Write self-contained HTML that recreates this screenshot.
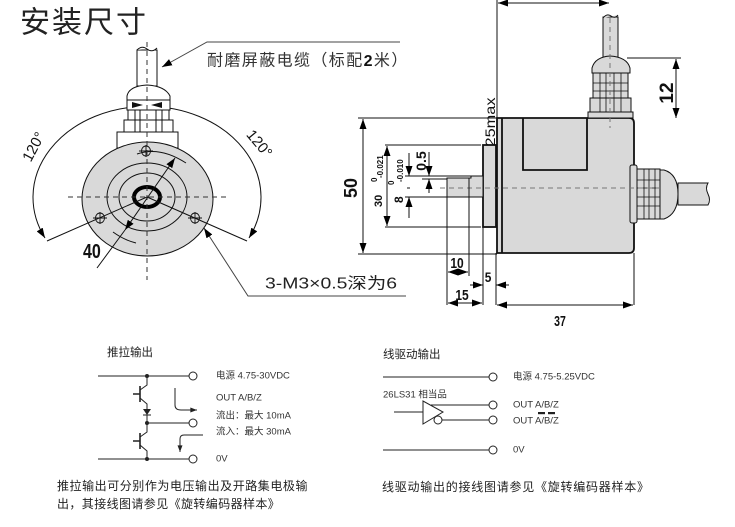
<!DOCTYPE html>
<html><head><meta charset="utf-8">
<style>
html,body{margin:0;padding:0;background:#fff;}
svg{display:block;}
</style></head><body>
<svg width="735" height="527" viewBox="0 0 735 527" xmlns="http://www.w3.org/2000/svg" font-family="'Liberation Sans','Noto Sans CJK SC',sans-serif">
<defs>
<marker id="ar" viewBox="0 0 10 7" refX="10" refY="3.5" markerWidth="10" markerHeight="7" markerUnits="userSpaceOnUse" orient="auto-start-reverse"><path d="M0,0 L10,3.5 L0,7 Z" fill="#000"/></marker>
<marker id="sm" viewBox="0 0 8 6" refX="8" refY="3" markerWidth="7" markerHeight="5" markerUnits="userSpaceOnUse" orient="auto-start-reverse"><path d="M0,0 L8,3 L0,6 Z" fill="#222"/></marker>
</defs>

<!-- Title -->
<text x="20" y="23" font-size="30" letter-spacing="2" dominant-baseline="central" fill="#222">安装尺寸</text>

<!-- ===== FRONT VIEW ===== -->
<path d="M45,238 A114,91 0 1,1 249,238" fill="none" stroke="#111" stroke-width="1" marker-start="url(#ar)" marker-end="url(#ar)"/>

<!-- cable & connector -->
<rect x="137" y="50" width="20" height="36" fill="#fff" stroke="#111"/>
<path d="M137,50 Q142,45 147,49 Q152,53 157,48" fill="#fff" stroke="#111"/>
<path d="M127,100 L127,96 Q129,86 147,85 Q165,86 170,96 L170,100 Z" fill="#fff" stroke="#111"/>
<rect x="127" y="100" width="43" height="10" fill="#fff" stroke="#111"/>
<path d="M132,102 L143,105 L132,108 Z M162,102 L151,105 L162,108 Z" fill="#111"/>
<rect x="128" y="110" width="41" height="10" fill="#fff" stroke="#111"/>
<rect x="124" y="120" width="49" height="12" fill="#fff" stroke="#111"/>
<path d="M135,110 V132 M140,110 V132 M156,110 V132 M162,110 V132" stroke="#111" fill="none"/>
<rect x="117" y="132" width="61" height="16" fill="#fff" stroke="#111"/>

<!-- flange -->
<ellipse cx="147.5" cy="199" rx="65.5" ry="57" fill="#d9d9d9" stroke="#111"/>
<ellipse cx="147" cy="197" rx="40" ry="34" fill="none" stroke="#111"/>
<ellipse cx="147" cy="197" rx="28" ry="24" fill="none" stroke="#111"/>
<ellipse cx="147" cy="197" rx="13" ry="10" fill="none" stroke="#000" stroke-width="4"/>
<!-- bolt circle arcs -->
<path d="M137,154 Q160,146 186,163" fill="none" stroke="#111"/>
<path d="M113,232 Q124,240 136,243" fill="none" stroke="#111"/>
<!-- bolt holes -->
<g fill="none" stroke="#111" stroke-width="0.9">
<ellipse cx="146" cy="151" rx="4.5" ry="5"/><path d="M139,151 H153 M146,145 V157"/>
<ellipse cx="100" cy="218" rx="4.5" ry="5"/><path d="M93,218 H107 M100,212 V224"/>
<ellipse cx="195" cy="218" rx="4.5" ry="5"/><path d="M188,218 H202 M195,212 V224"/>
</g>
<!-- lines from center to arc ends -->
<path d="M147,197 L47,241 M147,197 L247,241" stroke="#111" fill="none"/>
<!-- dashed center lines -->
<path d="M68,197 H228 M147,42 V280" stroke="#333" stroke-dasharray="5,4" fill="none"/>
<!-- diameter 40 -->
<line x1="125" y1="230" x2="175" y2="158" stroke="#111" marker-start="url(#ar)" marker-end="url(#ar)"/>
<line x1="125" y1="230" x2="97" y2="268" stroke="#111"/>
<text transform="translate(83,258) scale(0.8,1)" font-size="20" font-weight="bold" fill="#111">40</text>
<!-- 120 labels -->
<text transform="translate(34,147) rotate(-62)" font-size="15" text-anchor="middle" dominant-baseline="central" fill="#111">120°</text>
<text transform="translate(259,144) rotate(50)" font-size="15" text-anchor="middle" dominant-baseline="central" fill="#111">120°</text>
<!-- cable leader -->
<path d="M400,42 H207 L162,67" fill="none" stroke="#444" marker-end="url(#ar)"/>
<text x="207" y="61" font-size="16" letter-spacing="1.4" dominant-baseline="central" fill="#333">耐磨屏蔽电缆（标配<tspan font-weight="bold" fill="#111">2</tspan>米）</text>
<!-- 3-M3 leader -->
<path d="M406,296 H248 L204,228" fill="none" stroke="#444" marker-end="url(#ar)"/>
<text x="265" y="284" font-size="16" textLength="132" lengthAdjust="spacingAndGlyphs" dominant-baseline="central" fill="#222">3-M3×0.5深为6</text>

<!-- ===== SIDE VIEW ===== -->
<!-- top dim -->
<line x1="497" y1="0" x2="497" y2="118" stroke="#111"/>
<line x1="498" y1="3" x2="609" y2="3" stroke="#111" marker-start="url(#ar)" marker-end="url(#ar)"/>
<text transform="translate(495,122) rotate(-90)" font-size="14" text-anchor="middle" textLength="49" lengthAdjust="spacingAndGlyphs" fill="#111">25max</text>

<!-- top connector -->
<rect x="603" y="17" width="15" height="42" fill="#d9d9d9" stroke="#111"/>
<path d="M603,18 Q607,13 611,16 Q615,19 618,15" fill="#d9d9d9" stroke="#111"/>
<path d="M592,73 L592,68 Q595,57 610,56 Q627,57 630,68 L630,73 Z" fill="#d9d9d9" stroke="#111"/>
<rect x="593" y="73" width="35" height="25" fill="#d9d9d9" stroke="#111"/>
<rect x="590" y="98" width="41" height="14" fill="#d9d9d9" stroke="#111"/>
<path d="M600,73 V112 M606,73 V112 M614,73 V112 M621,73 V112 M593,83 H628 M593,91 H628" stroke="#111" fill="none" stroke-width="0.8"/>
<rect x="588" y="112" width="45" height="6" fill="#d9d9d9" stroke="#111"/>

<!-- body -->
<path d="M497,118 L629,118 Q634,118 634,123 L634,248 Q634,253 629,253 L497,253 Z" fill="#d9d9d9" stroke="#111" stroke-width="1.8"/>
<line x1="502" y1="118" x2="502" y2="253" stroke="#111" stroke-width="1.8"/>
<path d="M523,118 V170 H587 V118" fill="none" stroke="#111" stroke-width="1.8"/>
<rect x="588" y="112" width="45" height="6" fill="#d9d9d9" stroke="#111"/>
<!-- flange pilot -->
<rect x="483" y="145" width="13" height="82" fill="#d9d9d9" stroke="#111" stroke-width="1.8"/>
<!-- shaft -->
<path d="M447,178 L471,178 L471,176 L483,176 L483,197 L447,197 Z" fill="#d9d9d9" stroke="#111"/>

<!-- side connector -->
<rect x="630" y="165" width="7" height="58" rx="2" fill="#d9d9d9" stroke="#111"/>
<rect x="637" y="169" width="23" height="50" fill="#d9d9d9" stroke="#111"/>
<path d="M660,170 L664,170 Q678,174 678,194 Q678,214 664,219 L660,219 Z" fill="#d9d9d9" stroke="#111"/>
<path d="M644,169 V219 M649,169 V219 M655,169 V219 M637,180 H660 M637,188 H660 M637,197 H660 M637,206 H660" stroke="#111" stroke-width="0.8" fill="none"/>
<path d="M678,183 L708,183 Q705,188 708,194 Q711,200 708,205 L678,205 Z" fill="#d9d9d9" stroke="#111"/>

<!-- centerlines -->
<path d="M440,188 H665" stroke="#777" stroke-dasharray="5,4" fill="none"/>
<path d="M610,18 V128" stroke="#777" stroke-dasharray="5,4" fill="none"/>
<line x1="407" y1="188" x2="410" y2="188" stroke="#111"/>

<!-- 12 dim -->
<line x1="627" y1="58" x2="681" y2="58" stroke="#111"/>
<line x1="676" y1="59" x2="676" y2="118" stroke="#111" marker-start="url(#ar)" marker-end="url(#ar)"/>
<text transform="translate(673,93) rotate(-90)" font-size="19" font-weight="bold" text-anchor="middle" fill="#111">12</text>

<!-- 50 dim -->
<line x1="358" y1="118" x2="497" y2="118" stroke="#111"/>
<line x1="358" y1="254" x2="497" y2="254" stroke="#111"/>
<line x1="363" y1="119" x2="363" y2="253" stroke="#111" marker-start="url(#ar)" marker-end="url(#ar)"/>
<text transform="translate(357,188) rotate(-90)" font-size="18" font-weight="bold" text-anchor="middle" fill="#111">50</text>

<!-- 30 dim -->
<line x1="385" y1="145" x2="481" y2="145" stroke="#111"/>
<line x1="385" y1="227" x2="481" y2="227" stroke="#111"/>
<line x1="387" y1="146" x2="387" y2="226" stroke="#111" marker-start="url(#ar)" marker-end="url(#ar)"/>
<text transform="translate(382,207) rotate(-90)" font-size="11" font-weight="bold" fill="#111">30</text>
<text transform="translate(377,182) rotate(-90)" font-size="8" font-weight="bold" fill="#111">0</text>
<text transform="translate(383,178) rotate(-90)" font-size="8" font-weight="bold" fill="#111">-0.021</text>

<!-- 8 dim -->
<line x1="405" y1="176" x2="471" y2="176" stroke="#111"/>
<line x1="405" y1="197" x2="447" y2="197" stroke="#111"/>
<line x1="409" y1="153" x2="409" y2="176" stroke="#111" marker-end="url(#ar)"/>
<line x1="409" y1="218" x2="409" y2="197" stroke="#111" marker-end="url(#ar)"/>
<text transform="translate(403,203) rotate(-90)" font-size="12" font-weight="bold" fill="#111">8</text>
<text transform="translate(394,185) rotate(-90)" font-size="8" font-weight="bold" fill="#111">0</text>
<text transform="translate(403,182) rotate(-90)" font-size="8" font-weight="bold" fill="#111">-0.010</text>

<!-- 0.5 dim -->
<line x1="422" y1="179" x2="447" y2="179" stroke="#111"/>
<line x1="429" y1="152" x2="429" y2="176" stroke="#111" marker-end="url(#ar)"/>
<line x1="429" y1="193" x2="429" y2="179" stroke="#111" marker-end="url(#ar)"/>
<text transform="translate(426,161) rotate(-90)" font-size="14" font-weight="bold" text-anchor="middle" fill="#111">0.5</text>

<!-- bottom ext lines -->
<path d="M447,197 V305 M469,178 V276 M483,227 V305 M496,253 V305 M634,253 V305" stroke="#111" fill="none"/>
<!-- 10 -->
<line x1="448" y1="272" x2="468" y2="272" stroke="#111" marker-start="url(#ar)" marker-end="url(#ar)"/>
<text transform="translate(457,268) scale(0.8,1)" font-size="15" font-weight="bold" text-anchor="middle" fill="#111">10</text>
<!-- 5 -->
<line x1="470" y1="285" x2="483" y2="285" stroke="#111" marker-end="url(#ar)"/>
<line x1="509" y1="285" x2="496" y2="285" stroke="#111" marker-end="url(#ar)"/>
<text transform="translate(488,282) scale(0.85,1)" font-size="14" font-weight="bold" text-anchor="middle" fill="#111">5</text>
<!-- 15 -->
<line x1="448" y1="303" x2="482" y2="303" stroke="#111" marker-start="url(#ar)" marker-end="url(#ar)"/>
<text transform="translate(462,300) scale(0.8,1)" font-size="15" font-weight="bold" text-anchor="middle" fill="#111">15</text>
<!-- 37 -->
<line x1="497" y1="305" x2="633" y2="305" stroke="#111" marker-start="url(#ar)" marker-end="url(#ar)"/>
<text transform="translate(560,326) scale(0.7,1)" font-size="15" font-weight="bold" text-anchor="middle" fill="#111">37</text>

<!-- ===== PUSH-PULL CIRCUIT ===== -->
<text x="107" y="353" font-size="11.5" dominant-baseline="central" fill="#222">推拉输出</text>
<g stroke="#222" stroke-width="1" fill="none">
<path d="M98,376 H189 M98,459 H189 M147,376 V385 L140,390 M140,398 L147,404 V423 H189 M147,423 V432 L140,437 M140,445 L147,451 V459"/>
<path d="M140,386 V402 M133,394 H140 M140,433 V449 M133,441 H140" stroke-width="1.6"/>
<path d="M143,415 H151"/>
<circle cx="193" cy="376" r="4" fill="#fff"/>
<circle cx="193" cy="423" r="4" fill="#fff"/>
<circle cx="193" cy="459" r="4" fill="#fff"/>
<path d="M175,388 V405 Q175,410 181,410 H197" marker-end="url(#sm)"/>
<path d="M203,435 H184 Q180,435 180,439 V452" marker-end="url(#sm)"/>
</g>
<path d="M143,409 L151,409 L147,415 Z" fill="#222"/>
<circle cx="147" cy="376" r="2" fill="#222"/>
<circle cx="147" cy="423" r="2" fill="#222"/>
<circle cx="147" cy="459" r="2" fill="#222"/>
<g font-size="9.5" fill="#333" dominant-baseline="central">
<text x="216" y="376">电源 4.75-30VDC</text>
<text x="216" y="398">OUT A/B/Z</text>
<text x="216" y="416">流出：最大 10mA</text>
<text x="216" y="432">流入：最大 30mA</text>
<text x="216" y="459">0V</text>
</g>
<text x="57" y="486" font-size="12" letter-spacing="0.55" dominant-baseline="central" fill="#222">推拉输出可分别作为电压输出及开路集电极输</text>
<text x="57" y="504" font-size="12" letter-spacing="0.4" dominant-baseline="central" fill="#222">出，其接线图请参见《旋转编码器样本》</text>

<!-- ===== LINE DRIVER CIRCUIT ===== -->
<text x="383" y="355" font-size="11.5" dominant-baseline="central" fill="#222">线驱动输出</text>
<g stroke="#222" stroke-width="1" fill="none">
<path d="M383,377 H489 M383,450 H489 M394,412 H423 M431,405 H489 M442,420 H489"/>
<path d="M423,401 L423,424 L443,412 Z" fill="#fff"/>
<path d="M431,405 H489"/>
<circle cx="438" cy="420" r="4" fill="#fff"/>
<circle cx="493" cy="377" r="4" fill="#fff"/>
<circle cx="493" cy="405" r="4" fill="#fff"/>
<circle cx="493" cy="420" r="4" fill="#fff"/>
<circle cx="493" cy="450" r="4" fill="#fff"/>
</g>
<g font-size="9.5" fill="#333" dominant-baseline="central">
<text x="513" y="377">电源 4.75-5.25VDC</text>
<text x="383" y="395">26LS31  相当品</text>
<text x="513" y="405">OUT A/B/Z</text>
<text x="513" y="421">OUT A/B/Z</text>
<text x="513" y="450">0V</text>
</g>
<rect x="538" y="412" width="7" height="2.2" fill="#222"/>
<rect x="548" y="412" width="7" height="2.2" fill="#222"/>
<text x="382" y="487" font-size="12" letter-spacing="0.75" dominant-baseline="central" fill="#222">线驱动输出的接线图请参见《旋转编码器样本》</text>
</svg>
</body></html>
